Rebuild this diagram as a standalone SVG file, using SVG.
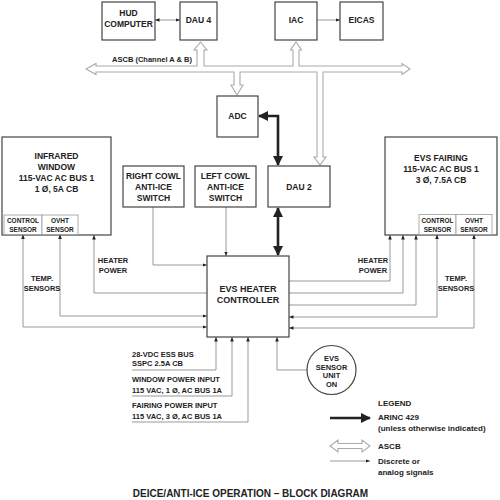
<svg xmlns="http://www.w3.org/2000/svg" width="500" height="500" viewBox="0 0 500 500">
<style>
text{font-family:"Liberation Sans",Arial,sans-serif;font-weight:bold;fill:#222;text-anchor:middle}
.box{fill:#fff;stroke:#444;stroke-width:1.2}
.sub{fill:#fff;stroke:#999;stroke-width:0.8}
.t85{font-size:8.5px}
.t9{font-size:9px}
.t75{font-size:7.5px}
.t65{font-size:6.5px}
.t8{font-size:8px}
.l{text-anchor:start}
.thin{fill:none;stroke:#999;stroke-width:1}
.thick{fill:none;stroke:#222;stroke-width:2.6}
.bus{fill:#fff;stroke:#aaa;stroke-width:1.1}
</style>
<defs>
<marker id="a" viewBox="0 0 10 10" refX="10" refY="5" markerWidth="4.5" markerHeight="4.5" markerUnits="userSpaceOnUse" orient="auto-start-reverse">
<path d="M0,1 L10,5 L0,9 Z" fill="#222"/>
</marker>
<marker id="A" viewBox="0 0 10 10" refX="9" refY="5" markerWidth="10" markerHeight="10" markerUnits="userSpaceOnUse" orient="auto-start-reverse">
<path d="M0,0 L10,5 L0,10 Z" fill="#222"/>
</marker>
</defs>

<g id="connectors">
<path class="bus" d="M86,69 L96,63.5 L96,66 L197,66 L197,50 L194,50 L200.5,42 L207,50 L204,50 L204,66 L293,66 L293,50 L290.5,50 L296,42 L301.5,50 L299,50 L299,66 L402,66 L402,63.5 L410,69 L402,74.5 L402,72 L323,72 L323,157 L326,157 L320,165 L314,157 L317,157 L317,72 L240,72 L240,85 L243,85 L237,95 L231,85 L234,85 L234,72 L96,72 L96,74.5 Z"/>
<path class="thin" d="M155,20 H180" marker-start="url(#a)" marker-end="url(#a)"/>
<path class="thin" d="M317,20 H340" marker-end="url(#a)"/>
<path class="thick" d="M259,116 H278 V165" marker-start="url(#A)" marker-end="url(#A)"/>
<path class="thick" d="M278,208 V255" marker-start="url(#A)" marker-end="url(#A)"/>
<path class="thin" d="M153,207 V265 H207" marker-end="url(#a)"/>
<path class="thin" d="M226,207 V256" marker-end="url(#a)"/>
<path class="thin" d="M207,293 H94 V235" marker-end="url(#a)"/>
<path class="thin" d="M60,234.5 V316 H207" marker-start="url(#a)" marker-end="url(#a)"/>
<path class="thin" d="M23,234.5 V327 H207" marker-start="url(#a)" marker-end="url(#a)"/>
<path class="thin" d="M289,281 H390 V235" marker-end="url(#a)"/>
<path class="thin" d="M289,293 H403 V235" marker-end="url(#a)"/>
<path class="thin" d="M289,305 H416 V235" marker-end="url(#a)"/>
<path class="thin" d="M437,234.5 V317 H289" marker-start="url(#a)" marker-end="url(#a)"/>
<path class="thin" d="M474,234.5 V328 H289" marker-start="url(#a)" marker-end="url(#a)"/>
<path class="thin" d="M132,370 H216 V337" marker-end="url(#a)"/>
<path class="thin" d="M132,396 H232 V337" marker-end="url(#a)"/>
<path class="thin" d="M132,422 H248 V337" marker-end="url(#a)"/>
<path class="thin" d="M307,370 H277 V337" marker-end="url(#a)"/>
</g>

<text class="t75" x="152" y="62">ASCB (Channel A &amp; B)</text>

<g id="hud"><rect class="box" x="102" y="2" width="53" height="38"/><text class="t85" x="128.5" y="16">HUD</text><text class="t85" x="128.5" y="27">COMPUTER</text></g>
<g id="dau4"><rect class="box" x="180" y="2" width="37" height="38"/><text class="t85" x="198.5" y="23">DAU 4</text></g>
<g id="iac"><rect class="box" x="275" y="2" width="42" height="38"/><text class="t85" x="296" y="23">IAC</text></g>
<g id="eicas"><rect class="box" x="340" y="2" width="43" height="38"/><text class="t85" x="361.5" y="23">EICAS</text></g>
<g id="adc"><rect class="box" x="217" y="96" width="41" height="41"/><text class="t85" x="237.5" y="119">ADC</text></g>
<g id="dau2"><rect class="box" x="268" y="166" width="62" height="41"/><text class="t85" x="299" y="190">DAU 2</text></g>

<g id="infrared">
<rect class="box" x="2" y="137" width="109" height="98"/>
<text class="t85" x="56.5" y="159">INFRARED</text>
<text class="t85" x="56.5" y="170">WINDOW</text>
<text class="t85" x="56.5" y="181">115-VAC AC BUS 1</text>
<text class="t85" x="56.5" y="191.5">1 Ø, 5A CB</text>
<rect class="sub" x="4" y="215" width="38" height="19.5"/>
<rect class="sub" x="42" y="215" width="36" height="19.5"/>
<text class="t65" x="23" y="222.5">CONTROL</text><text class="t65" x="23" y="231.5">SENSOR</text>
<text class="t65" x="60" y="222.5">OVHT</text><text class="t65" x="60" y="231.5">SENSOR</text>
</g>

<g id="fairing">
<rect class="box" x="385" y="137" width="112" height="98"/>
<text class="t85" x="441" y="161">EVS FAIRING</text>
<text class="t85" x="441" y="172">115-VAC AC BUS 1</text>
<text class="t85" x="441" y="183">3 Ø, 7.5A CB</text>
<rect class="sub" x="419" y="214.5" width="37" height="20"/>
<rect class="sub" x="456" y="214.5" width="36" height="20"/>
<text class="t65" x="437.5" y="222.5">CONTROL</text><text class="t65" x="437.5" y="231.5">SENSOR</text>
<text class="t65" x="474" y="222.5">OVHT</text><text class="t65" x="474" y="231.5">SENSOR</text>
</g>

<g id="rightcowl"><rect class="box" x="123" y="166" width="61" height="41"/><text class="t85" x="153.5" y="179">RIGHT COWL</text><text class="t85" x="153.5" y="190">ANTI-ICE</text><text class="t85" x="153.5" y="201">SWITCH</text></g>
<g id="leftcowl"><rect class="box" x="195" y="166" width="61" height="41"/><text class="t85" x="225.5" y="179">LEFT COWL</text><text class="t85" x="225.5" y="190">ANTI-ICE</text><text class="t85" x="225.5" y="201">SWITCH</text></g>

<g id="controller"><rect class="box" x="207" y="256" width="82" height="81"/><text class="t9" x="248" y="292">EVS HEATER</text><text class="t9" x="248" y="303">CONTROLLER</text></g>

<g id="sensorunit"><circle class="box" cx="331.5" cy="370" r="24.5"/>
<text class="t75" x="331.5" y="361">EVS</text><text class="t75" x="331.5" y="369.5">SENSOR</text><text class="t75" x="331.5" y="378">UNIT</text><text class="t75" x="331.5" y="386.5">ON</text></g>

<g id="labels">
<text class="t75" x="113" y="263">HEATER</text><text class="t75" x="113" y="273">POWER</text>
<text class="t75" x="42" y="281">TEMP.</text><text class="t75" x="42" y="291">SENSORS</text>
<text class="t75" x="373" y="263">HEATER</text><text class="t75" x="373" y="273">POWER</text>
<text class="t75" x="456" y="281">TEMP.</text><text class="t75" x="456" y="291">SENSORS</text>
<text class="t75 l" x="132" y="357">28-VDC ESS BUS</text>
<text class="t75 l" x="132" y="366">SSPC 2.5A CB</text>
<text class="t75 l" x="132" y="382">WINDOW POWER INPUT</text>
<text class="t75 l" x="132" y="393">115 VAC, 1 Ø, AC BUS 1A</text>
<text class="t75 l" x="132" y="408">FAIRING POWER INPUT</text>
<text class="t75 l" x="132" y="419">115 VAC, 3 Ø, AC BUS 1A</text>
</g>

<g id="legend">
<text class="t8 l" x="378" y="406">LEGEND</text>
<path class="thick" d="M330,418 H370" marker-end="url(#A)"/>
<text class="t8 l" x="378" y="420">ARINC 429</text>
<text class="t8 l" x="378" y="431">(unless otherwise indicated)</text>
<path class="bus" d="M330,446 L338,440 L338,443.5 L362,443.5 L362,440 L370,446 L362,452 L362,448.5 L338,448.5 L338,452 Z"/>
<text class="t8 l" x="378" y="449">ASCB</text>
<path class="thin" d="M330,461 H370" marker-end="url(#a)"/>
<text class="t8 l" x="378" y="464">Discrete or</text>
<text class="t8 l" x="378" y="475">analog signals</text>
</g>

<text x="250.5" y="496.5" style="font-size:10px">DEICE/ANTI-ICE OPERATION – BLOCK DIAGRAM</text>
</svg>
